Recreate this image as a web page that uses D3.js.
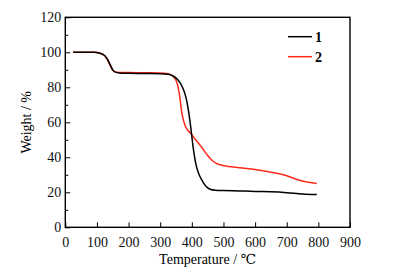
<!DOCTYPE html>
<html>
<head>
<meta charset="utf-8">
<script src="https://cdn.jsdelivr.net/npm/d3@7"></script>
<style>
  body { margin: 0; background: #fff; }
  svg text { font-family: "Liberation Serif", "DejaVu Serif", serif; }
</style>
</head>
<body>
<svg id="drawing_region"></svg>
<script>
// sample 1 (black)
const temp1 = [25, 90, 110, 125, 135, 143, 150, 158, 170, 200, 250, 300, 325, 340, 355, 365, 375, 383, 390, 396, 400, 404, 408, 413, 420, 430, 440, 450, 460, 475, 500, 550, 600, 650, 700, 750, 795];
const weight1 = [100, 100, 99.5, 98, 95.5, 92.5, 90, 88.7, 88.2, 88, 87.9, 87.8, 87.5, 86.5, 84.5, 82, 78, 73, 66, 58, 52, 46, 41, 36, 31.5, 27.5, 24.5, 22.5, 21.6, 21.2, 21, 20.8, 20.5, 20.3, 19.8, 19, 18.7];
// sample 2 (red)
const temp2 = [25, 90, 110, 125, 135, 143, 150, 158, 170, 200, 250, 300, 325, 340, 350, 358, 363, 368, 373, 378, 385, 395, 410, 430, 450, 465, 480, 500, 550, 600, 650, 700, 730, 760, 795];
const weight2 = [100, 100, 99.5, 98, 95, 92, 89.8, 88.8, 88.5, 88.4, 88.3, 88.2, 87.8, 86.5, 84, 79, 73, 66, 61.5, 58.5, 56, 54, 50.5, 46, 41, 38, 36.3, 35.3, 34, 33, 31.5, 29.5, 27.5, 26, 25];
const seriesNames = ["1", "2"];
const seriesColors = ["#000000", "#ff2a1a"];
const xTicks = [0, 100, 200, 300, 400, 500, 600, 700, 800, 900];
const yTicks = [0, 20, 40, 60, 80, 100, 120];
const yMinorTicks = [10, 30, 50, 70, 90, 110];

const width = 415, height = 280;
const margin = {top: 17.3, right: 65, bottom: 52.7, left: 65.3};

const svg = d3.select('#drawing_region')
    .attr('width', width)
    .attr('height', height);

const x = d3.scaleLinear().domain([0, 900]).range([margin.left, width - margin.right]);
const y = d3.scaleLinear().domain([0, 120]).range([height - margin.bottom, margin.top]);

// x axis (ticks inward)
svg.append('g')
    .attr('transform', `translate(0, ${y(0)})`)
    .call(d3.axisBottom(x).tickValues(xTicks).tickSizeInner(-5).tickSizeOuter(0).tickPadding(10))
    .call(g => g.select('.domain').remove())
    .call(g => g.selectAll('text').attr('font-size', 14).attr('fill', '#111'));

// y axis major
svg.append('g')
    .attr('transform', `translate(${x(0)}, 0)`)
    .call(d3.axisLeft(y).tickValues(yTicks).tickSizeInner(-5).tickSizeOuter(0).tickPadding(4))
    .call(g => g.select('.domain').remove())
    .call(g => g.selectAll('text').attr('font-size', 14).attr('fill', '#111'));

// y axis minor
svg.append('g')
    .attr('transform', `translate(${x(0)}, 0)`)
    .call(d3.axisLeft(y).tickValues(yMinorTicks).tickSizeInner(-3).tickSizeOuter(0).tickFormat(''))
    .call(g => g.select('.domain').remove());

// frame
svg.append('rect')
    .attr('x', x(0)).attr('y', y(120))
    .attr('width', x(900) - x(0)).attr('height', y(0) - y(120))
    .attr('fill', 'none').attr('stroke', '#000').attr('stroke-width', 1.4);

const line = d3.line()
    .x(d => x(d[0]))
    .y(d => y(d[1]))
    .curve(d3.curveMonotoneX);

const series = [
    d3.zip(temp1, weight1),
    d3.zip(temp2, weight2)
];

// draw red first then black so black overlaps where they coincide
[1, 0].forEach(i => {
    svg.append('path')
        .datum(series[i])
        .attr('d', line)
        .attr('fill', 'none')
        .attr('stroke', seriesColors[i])
        .attr('stroke-width', 1.5);
});

// legend
const legend = svg.append('g');
seriesNames.forEach((n, i) => {
    const ly = 36.7 + i * 20;
    legend.append('line')
        .attr('x1', 288).attr('x2', 312)
        .attr('y1', ly).attr('y2', ly)
        .attr('stroke', seriesColors[i]).attr('stroke-width', 1.5);
    legend.append('text')
        .attr('x', 315).attr('y', ly + 5)
        .attr('font-size', 14).attr('font-weight', 'bold')
        .text(n);
});

// axis titles
svg.append('text')
    .attr('x', (x(0) + x(900)) / 2).attr('y', 264)
    .attr('text-anchor', 'middle')
    .attr('font-size', 14)
    .text('Temperature / ℃');

svg.append('text')
    .attr('transform', `translate(31, ${(y(0) + y(120)) / 2}) rotate(-90)`)
    .attr('text-anchor', 'middle')
    .attr('font-size', 14)
    .text('Weight / %');
</script>
</body>
</html>
